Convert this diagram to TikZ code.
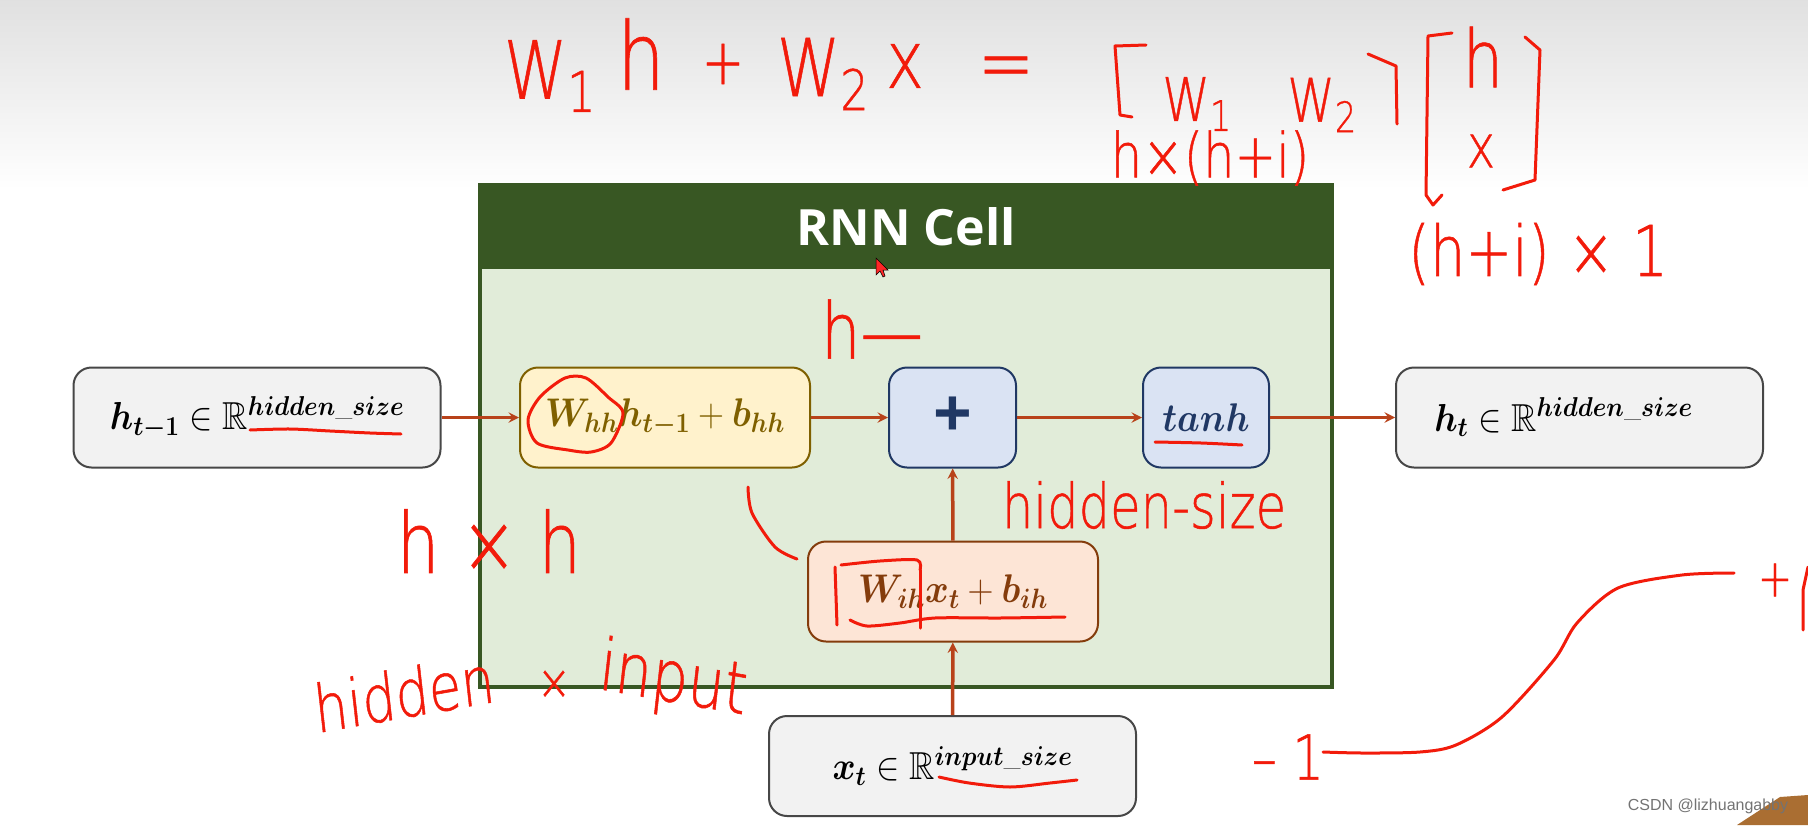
\documentclass[tikz,border=0pt]{standalone}
\usepackage{fix-cm}
\usepackage{xcolor}
\usepackage{amsmath}
\usepackage{amssymb}
\usepackage{fontspec}
\newfontfamily\titlefont{Open Sans}
\newfontfamily\inkfont[FakeBold=0.8]{DejaVu Sans ExtraLight}
\newfontfamily\markfont{Liberation Sans}
\definecolor{cellgreen}{RGB}{56,87,35}
\definecolor{cellfill}{RGB}{225,236,217}
\definecolor{stategray}{RGB}{242,242,242}
\definecolor{termyellow}{RGB}{255,242,204}
\definecolor{termbrown}{RGB}{127,96,0}
\definecolor{sumblue}{RGB}{218,227,243}
\definecolor{sumnavy}{RGB}{32,56,100}
\definecolor{termorange}{RGB}{253,229,214}
\definecolor{orangebrown}{RGB}{132,60,12}
\definecolor{flowred}{RGB}{184,66,26}
\definecolor{inkred}{RGB}{242,27,11}
\definecolor{cornerbrown}{RGB}{170,110,50}
\newcommand{\narrowmath}[1]{\scalebox{0.9}[1]{$#1$}}
\begin{document}
\begin{tikzpicture}[
    x=1pt, y=-1pt,
    statebox/.style={rectangle, rounded corners=18pt, draw=black!72, line width=2pt, fill=stategray, minimum width=367pt, minimum height=100pt, font=\fontsize{39}{44}\selectfont},
    termbox/.style={rectangle, rounded corners=18pt, line width=2pt, minimum height=100pt, font=\fontsize{40}{44}\selectfont},
    flow/.style={->, >=stealth, line width=3.5pt, flowred},
    ink/.style={inkred, line width=3pt, line cap=round, line join=round},
    inktext/.style={inner sep=0pt, text=inkred, xscale=0.8, transform shape, font=\inkfont\fontsize{#1}{#1}\selectfont},
]

\clip (0,0) rectangle (1808,825);

% Backdrop
\shade[top color=black!12, bottom color=white] (0,0) rectangle (1808,190);

% Cell
\node[rectangle, draw=cellgreen, line width=4pt, fill=cellfill, minimum width=852pt, minimum height=502pt] (cell) at (906,436) {};
\node[rectangle, fill=cellgreen, minimum width=854pt, minimum height=85pt, text=white, font=\titlefont\bfseries\fontsize{50}{60}\selectfont] (title) at (906,226.5) {RNN Cell};

% States
\node[statebox] (hprev) at (257,417.5) {\narrowmath{\boldsymbol{h_{t-1}}\in\mathbb{R}^{\boldsymbol{hidden\_size}}}};
\node[statebox] (hnext) at (1579.5,417.5) {\narrowmath{\boldsymbol{h_{t}}\in\mathbb{R}^{\boldsymbol{hidden\_size}}}\hspace*{32pt}};
\node[statebox] (xin) at (952.5,766) {\narrowmath{\boldsymbol{x_{t}}\in\mathbb{R}^{\boldsymbol{input\_size}}}};

% Terms
\node[termbox, draw=termbrown, fill=termyellow, text=termbrown, minimum width=290pt] (hterm) at (665,417.5) {\narrowmath{\boldsymbol{W_{hh}h_{t-1}}+\boldsymbol{b_{hh}}}};
\node[termbox, draw=orangebrown, fill=termorange, text=orangebrown, minimum width=290pt] (xterm) at (953,591.5) {\narrowmath{\boldsymbol{W_{ih}x_{t}}+\boldsymbol{b_{ih}}}};

% Sum and activation
\node[termbox, draw=sumnavy, fill=sumblue, text=sumnavy, minimum width=127pt, font=\titlefont\bfseries\fontsize{68}{60}\selectfont] (sum) at (952.5,417.5) {\raisebox{-7pt}{+}};
\node[termbox, draw=sumnavy, fill=sumblue, text=sumnavy, minimum width=126pt] (act) at (1206,417.5) {\narrowmath{\boldsymbol{tanh}}};

% Arrows
\draw[flow] (hprev) -- (hterm);
\draw[flow] (hterm) -- (sum);
\draw[flow] (sum) -- (act);
\draw[flow] (act) -- (hnext);
\draw[flow] (xterm) -- (sum);
\draw[flow] (xin) -- (xterm);

% Handwriting, top line
\node[inktext=80] (wone) at (550,76) {W\textsubscript{1}};
\node[inktext=94] (hone) at (641,54) {h};
\node[inktext=64] (plusone) at (723,64) {+};
\node[inktext=80] (wtwo) at (823,74) {W\textsubscript{2}};
\node[inktext=80] (xone) at (905,66) {x};
\node[inktext=84] (eqone) at (1006,74) {=};
\node[inktext=60] (wthree) at (1197,104) {W\textsubscript{1}};
\node[inktext=60] (wfour) at (1322,105) {W\textsubscript{2}};
\node[inktext=80] (htwo) at (1483,57) {h};
\node[inktext=60] (xtwo) at (1481,151) {x};
\node[inktext=62] (hbyi) at (1210,158) {h×(h+i)};
\node[inktext=70] (ibyone) at (1538,254) {(h+i) × 1};

% Handwriting, inside and around the cell
\node[inktext=78] (hdash) at (872,329) {h—};
\node[inktext=84] (hbyh) at (489,541) {h × h};
\node[inktext=66, rotate=8] (hidden) at (404,693) {hidden};
\node[inktext=50] (times) at (554,685) {×};
\node[inktext=72, rotate=-8] (inputword) at (673,682) {input};
\node[inktext=62] (hsize) at (1144,505) {hidden-size};
\node[inktext=62] (minusone) at (1288,757) {– 1};
\node[inktext=52] (plusend) at (1775,580) {+};

% Ink strokes
\draw[ink] plot[smooth] coordinates {(250,430) (290,429) (330,431) (370,433) (401,434)};
\draw[ink] plot[smooth cycle] coordinates {(537,443) (568,450) (591,452) (611,443) (623,413) (608,397) (586,378) (565,378) (540,397) (528,420)};
\draw[ink] (837,625) -- (835,567);
\draw[ink] plot[smooth] coordinates {(841,565) (880,561) (917,560) (920,570)};
\draw[ink] (920,570) -- (920,628);
\draw[ink] plot[smooth] coordinates {(850,620) (867,626) (900,623) (935,618) (1000,618) (1065,617)};
\draw[ink] plot[smooth] coordinates {(1155,442) (1201,443) (1242,445)};
\draw[ink] plot[smooth] coordinates {(939,777) (969,783) (1010,787) (1050,783) (1077,780)};
\draw[ink] plot[smooth] coordinates {(748,487) (752,513) (775,547) (797,559)};
\draw[ink] plot[smooth] coordinates {(1323,752) (1363,753) (1420,752) (1456,745) (1502,717) (1554,660) (1577,623) (1618,588) (1682,575) (1734,573)};
\draw[ink] (1803,630) -- (1803,590) -- (1808,567);

% Brackets
\draw[ink] (1146,45) -- (1115,46) -- (1120,115) -- (1132,117);
\draw[ink] (1368,54) -- (1396,66) -- (1397,124);
\draw[ink] (1452,33) -- (1428,36) -- (1426,195) -- (1433,205) -- (1442,195);
\draw[ink] (1525,37) -- (1540,50) -- (1535,180) -- (1503,190);

% Cursor and corner
\fill[red!80!pink, draw=black, line width=0.5pt] (876,258) -- (876,275) -- (880,271) -- (883,277) -- (885,276) -- (883,270) -- (888,270) -- cycle;
\fill[cornerbrown] (1737,825) -- (1780,797) -- (1808,795) -- (1808,825) -- cycle;
\node[inner sep=0pt, text=black!55, font=\markfont\fontsize{16}{18}\selectfont] (mark) at (1708,806) {CSDN @lizhuangabby};

\end{tikzpicture}
\end{document}
